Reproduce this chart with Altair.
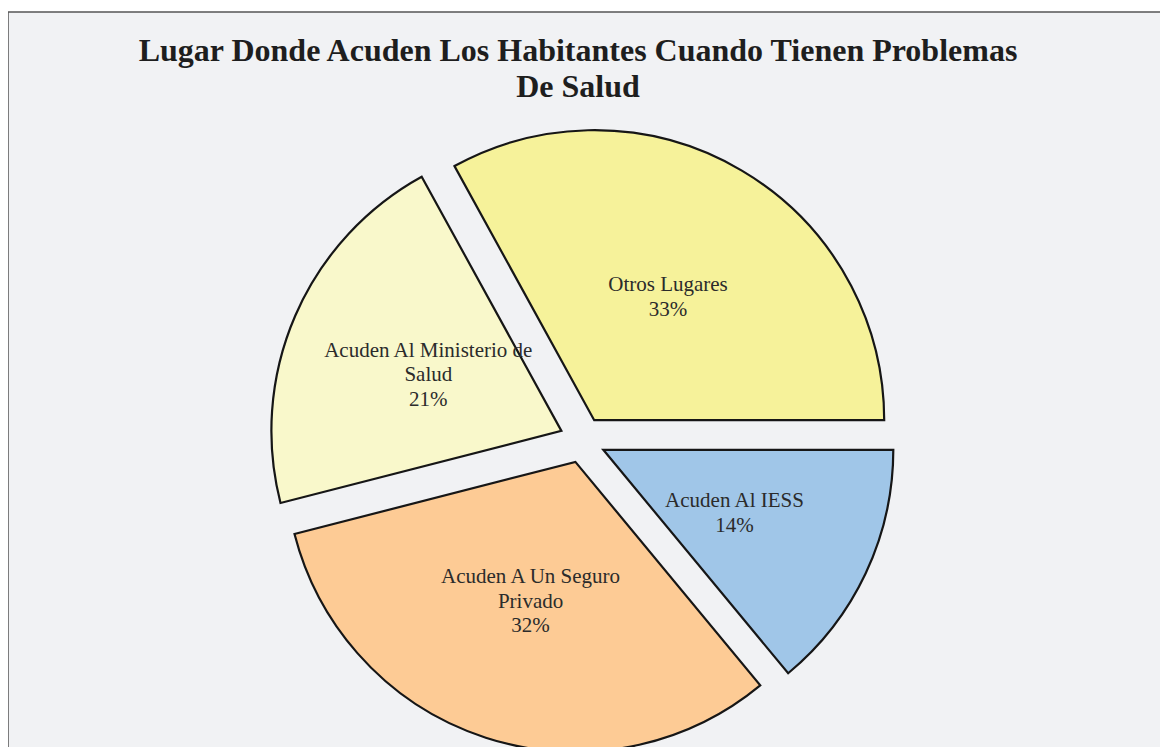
import math
import altair as alt
import pandas as pd

# ---- data ----
categories = ["Acuden Al IESS", "Acuden A Un Seguro Privado",
              "Acuden Al Ministerio de Salud", "Otros Lugares"]
label_text = ["Acuden Al IESS", "Acuden A Un Seguro\nPrivado",
              "Acuden Al Ministerio de\nSalud", "Otros Lugares"]
percent = [14, 32, 21, 33]
colors = ["#A0C6E8", "#FDCB95", "#F9F8CB", "#F6F29A"]

df = pd.DataFrame({"cat": categories, "lab": label_text, "pct": percent,
                   "order": list(range(len(categories)))})

W, H = 1164, 760
CX, CY = 574.5, 428.0   # pie centre inside the view (pixels)
EXPLODE = 23
R = 290
LH = 24.5

start_angle = math.pi / 2
theta_scale = alt.Scale(domain=[0, 100], range=[start_angle, start_angle + 2 * math.pi])
x_scale = alt.Scale(domain=[-CX, W - CX])
y_scale = alt.Scale(domain=[CY - H, CY])

base = (
    alt.Chart(df)
    .transform_window(cum="sum(pct)", sort=[alt.SortField("order")], frame=[None, 0])
    .transform_calculate(
        start="datum.cum - datum.pct",
        mid="datum.cum - datum.pct / 2",
    )
    .transform_calculate(ang=f"{start_angle} + datum.mid / 100 * 2 * PI")
    .transform_calculate(
        dx=f"{EXPLODE} * sin(datum.ang)",
        dy=f"{EXPLODE} * cos(datum.ang)",
        txt="datum.lab + '\\n' + datum.pct + '%'",
    )
    .transform_calculate(
        ty=f"datum.dy + (length(split(datum.txt, '\\n')) - 1) * {LH} / 2",
    )
)

arcs = base.mark_arc(radius=R, stroke="#161616", strokeWidth=2.2, strokeJoin="miter").encode(
    x=alt.X("dx:Q", scale=x_scale, axis=None),
    y=alt.Y("dy:Q", scale=y_scale, axis=None),
    theta=alt.Theta("start:Q", scale=theta_scale),
    theta2="cum:Q",
    color=alt.Color("cat:N", scale=alt.Scale(domain=categories, range=colors), legend=None),
)

labels = base.mark_text(
    radius=145, font="Liberation Serif", fontSize=21, color="#2b2b2b",
    lineBreak="\n", lineHeight=LH, align="center", baseline="middle", dy=2,
).encode(
    x=alt.X("dx:Q", scale=x_scale, axis=None),
    y=alt.Y("ty:Q", scale=y_scale, axis=None),
    theta=alt.Theta("mid:Q", scale=theta_scale),
    text="txt:N",
)

chart = (
    alt.layer(arcs, labels)
    .properties(
        width=W, height=H,
        autosize=alt.AutoSizeParams(type="none"),
        padding={"left": 0, "top": 4, "right": -12, "bottom": -25},
        background="white",
        title=alt.TitleParams(
            text=["Lugar Donde Acuden Los Habitantes Cuando Tienen Problemas", "De Salud"],
            font="Liberation Serif", fontSize=32, fontWeight="bold", color="#1e1e1e",
            lineHeight=36, anchor="middle", dx=-12, offset=-117, baseline="alphabetic",
        ),
    )
    .configure_view(fill="#F1F2F4", stroke="#555555", strokeWidth=1.5)
)

chart.save("out.html", embed_options={"renderer": "svg", "actions": False})
